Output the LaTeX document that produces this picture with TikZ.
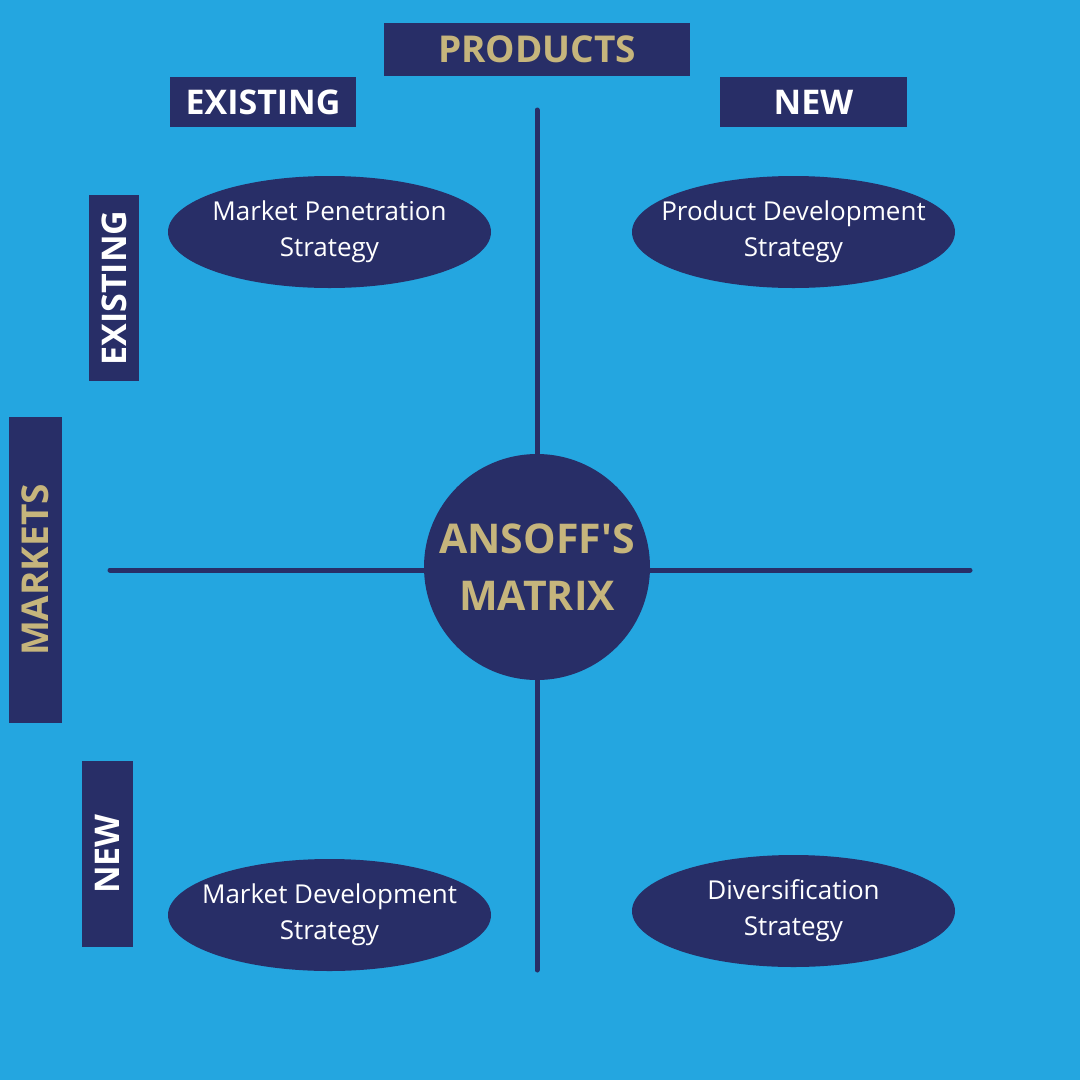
\documentclass[tikz,border=0pt]{standalone}
\usepackage{fontspec}
\setmainfont{Open Sans}
\usepackage{tikz}
\usetikzlibrary{positioning,shapes.geometric}
\definecolor{ansky}{HTML}{24A6E0}
\definecolor{annavy}{HTML}{282E67}
\definecolor{angold}{HTML}{C6B57C}
\tikzset{
  hdrbox/.style    = {fill=annavy, inner sep=0pt, align=center,
                      font=\fontsize{34}{40}\selectfont\bfseries, text=white},
  titlebox/.style  = {hdrbox, text=angold,
                      font=\fontsize{37}{42}\selectfont\bfseries},
  strategy/.style  = {ellipse, fill=annavy, inner xsep=-40pt, inner ysep=-12pt,
                      align=center, minimum width=323pt, minimum height=112pt,
                      font=\fontsize{26}{36}\selectfont, text=white},
  hub/.style       = {circle, fill=annavy, inner sep=0pt, align=center,
                      minimum size=226pt, text=angold,
                      font=\fontsize{41}{57}\selectfont\bfseries},
  axis/.style      = {draw=annavy, line width=5pt, line cap=round},
}

\begin{document}
\begin{tikzpicture}[x=1pt,y=-1pt]

  % ---------- canvas ---------------------------------------------------
  \fill[ansky] (0,0) rectangle (1080,1080);

  % ---------- axes -----------------------------------------------------
  \coordinate (vtop) at (537,110);
  \coordinate (vbot) at (537,970);
  \coordinate (hlft) at (110,570);
  \coordinate (hrgt) at (970,570);
  \draw[axis] (vtop) -- (vbot);
  \draw[axis] (hlft) -- (hrgt);

  % ---------- centre ---------------------------------------------------
  \node[hub] (ansoff) at (537,567) {ANSOFF\textquotesingle S\\MATRIX};

  % ---------- product headings (top) -----------------------------------
  \node[titlebox, minimum width=306pt, minimum height=53pt] (prod)
    at (537,49.5) {PRODUCTS};
  \node[hdrbox, minimum width=186pt, minimum height=50pt] (pexist)
    at (263,102) {EXISTING};
  \node[hdrbox, minimum width=187pt, minimum height=50pt] (pnew)
    at (813.5,102) {NEW};

  % ---------- market headings (left) -----------------------------------
  \node[titlebox, rotate=90, minimum width=306pt, minimum height=53pt] (mkt)
    at (35.5,570) {MARKETS};
  \node[hdrbox, rotate=90, minimum width=186pt, minimum height=50pt] (mexist)
    at (114,288) {EXISTING};
  \node[hdrbox, rotate=90, minimum width=186pt, minimum height=51pt] (mnew)
    at (107.5,854) {NEW};

  % ---------- strategies -----------------------------------------------
  \node[strategy] (pen) at (329.5,232) {Market Penetration\\Strategy};
  \node[strategy] (pdev) at (793.5,232) {Product Development\\Strategy};
  \node[strategy] (mdev) at (329.5,915) {Market Development\\Strategy};
  \node[strategy] (div) at (793.5,911) {Diversification\\Strategy};

\end{tikzpicture}
\end{document}
